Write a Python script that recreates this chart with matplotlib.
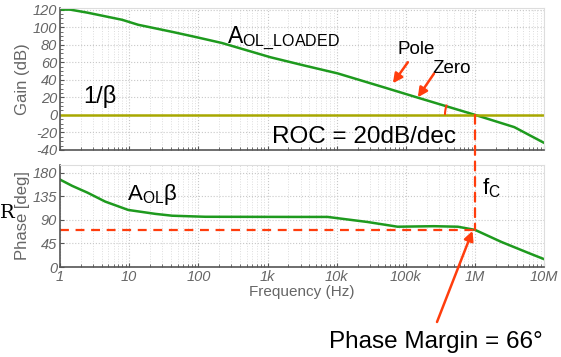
# Bode plot of loop gain: open loop gain vs 1/beta, and loop phase

import matplotlib.pyplot as plt
import numpy as np
from matplotlib.patches import ConnectionPatch, Arc
from matplotlib.ticker import FixedLocator, LogLocator, NullFormatter
from matplotlib.transforms import IdentityTransform

plt.rcParams['font.family'] = ['Liberation Sans', 'DejaVu Sans']

# Gain (dB)
f_gain = [1, 1.4, 2.5, 7.9, 13.5, 42, 91, 220, 1100, 3300, 10300, 50000,
          149000, 1e6, 3.7e6, 1e7]
gain_db = [120, 120, 116.5, 108.4, 102.7, 94.6, 88.8, 81.9, 65.7, 56.5,
           47.3, 31, 19.6, 0, -14, -32]
inv_beta_db = 0

# Phase (deg)
f_phase = [1, 1.5, 2.5, 4.5, 9.7, 24, 42, 126, 2550, 7400, 28000, 76000,
           255000, 565000, 1e6, 2.4e6, 5.9e6, 1e7]
phase_deg = [167, 155, 142, 125, 109, 101.5, 98, 96, 95.7, 95.7, 86, 77,
             78, 77, 71, 48, 27, 15]

f_c = 1e6
pm_level = 71

x_ticks = [1, 10, 100, 1e3, 1e4, 1e5, 1e6, 1e7]
x_labels = ['1', '10', '100', '1k', '10k', '100k', '1M', '10M']
gain_ticks = [120, 100, 80, 60, 40, 20, 0, -20, -40]
phase_ticks = [0, 45, 90, 135, 180]

green = '#1e9a1e'
olive = '#a8a800'
red = '#ff3d0d'
grey = '#666666'

fig = plt.figure(figsize=(5.61, 3.57), dpi=100)
ax1 = fig.add_axes([0.107, 0.580, 0.863, 0.398])
ax2 = fig.add_axes([0.107, 0.252, 0.863, 0.286])


def style(ax):
    ax.set_xscale('log')
    ax.set_xlim(1, 1e7)
    ax.xaxis.set_major_locator(FixedLocator(x_ticks))
    ax.xaxis.set_minor_locator(LogLocator(base=10, subs=np.arange(2, 10)))
    ax.xaxis.set_minor_formatter(NullFormatter())
    ax.grid(which='major', color='#c8c8c8', linestyle=':', linewidth=0.8)
    ax.xaxis.grid(which='minor', color='#dddddd', linestyle=':', linewidth=0.7)
    for s in ['top', 'right']:
        ax.spines[s].set_color('#dddddd')
    for s in ['left', 'bottom']:
        ax.spines[s].set_color('#555555')
        ax.spines[s].set_linewidth(1.2)
    ax.tick_params(which='both', direction='in', colors='#555555',
                   labelcolor=grey, labelsize=10.5, pad=2)
    ax.tick_params(which='minor', length=2)
    ax.tick_params(which='major', length=3)


############
#   Gain   #
############
ax1.plot(f_gain, gain_db, color=green, linewidth=1.8)
ax1.axhline(inv_beta_db, color=olive, linewidth=1.8)
style(ax1)
ax1.set_ylim(-40, 122)
ax1.set_yticks(gain_ticks, [str(t) for t in gain_ticks], fontstyle='italic')
ax1.yaxis.set_minor_locator(FixedLocator(np.arange(-40, 121, 5)))
ax1.tick_params(labelbottom=False)
ax1.set_ylabel('Gain (dB)', color=grey, fontsize=12, labelpad=2)

ax1.text(2.2, 8, '1/β', fontsize=17, ha='left', va='bottom')
ax1.text(263, 88, r'$\mathregular{A_{OL\_LOADED}}$', fontsize=16.5,
         ha='left', va='center')
ax1.text(1180, -25, 'ROC = 20dB/dec', fontsize=17.5, ha='left', va='center')
ax1.text(7.6e4, 74, 'Pole', fontsize=13.5, ha='left', va='center')
ax1.text(2.45e5, 53, 'Zero', fontsize=13.5, ha='left', va='center')
ax1.annotate('', xy=(6.5e4, 36), xytext=(1.07e5, 60),
             arrowprops=dict(arrowstyle='-|>', color=red, lw=1.8,
                             mutation_scale=14, shrinkA=0, shrinkB=0))
ax1.annotate('', xy=(1.49e5, 20), xytext=(2.55e5, 47),
             arrowprops=dict(arrowstyle='-|>', color=red, lw=1.8,
                             mutation_scale=14, shrinkA=0, shrinkB=0))
# small angle arc at the crossing point, sized in pixels
px = ax1.transData.transform((f_c, 0))
arc = Arc(px, 60, 60, theta1=160, theta2=180, color=red, lw=1.5,
          transform=IdentityTransform())
fig.patches.append(arc)

############
#   Phase  #
############
ax2.plot(f_phase, phase_deg, color=green, linewidth=1.8)
ax2.plot([1, f_c], [pm_level, pm_level], color=red, linestyle=(0, (4, 3)),
         linewidth=1.6)
style(ax2)
ax2.set_ylim(0, 195)
ax2.set_yticks(phase_ticks, [str(t) for t in phase_ticks], fontstyle='italic')
ax2.set_xticks(x_ticks, x_labels, fontstyle='italic')
ax2.set_ylabel('Phase [deg]', color=grey, fontsize=12, labelpad=2)
ax2.set_xlabel('Frequency (Hz)', color=grey, fontsize=11, labelpad=1)

ax2.text(9.4, 138, r'$\mathregular{A_{OL}β}$', fontsize=16,
         ha='left', va='center')
ax2.text(1.25e6, 150, r'$\mathregular{f_C}$', fontsize=16,
         ha='left', va='center')
fig.text(0.0, 1 - 213 / 357, 'R', fontsize=14, family='serif',
         ha='left', va='center')

con = ConnectionPatch(xyA=(f_c, 0), coordsA=ax1.transData,
                      xyB=(f_c, pm_level), coordsB=ax2.transData,
                      color=red, linestyle=(0, (4, 3)), linewidth=1.6)
fig.add_artist(con)

ax2.annotate('', xy=(f_c * 0.92, pm_level - 2), xycoords='data',
             xytext=(437 / 561, 1 - 322 / 357), textcoords='figure fraction',
             arrowprops=dict(arrowstyle='-|>', color=red, lw=1.8,
                             mutation_scale=14, shrinkA=0, shrinkB=0))
fig.text(436 / 561, 1 - 342 / 357, 'Phase Margin = 66°', fontsize=17.5,
         ha='center', va='center')

plt.savefig('out.png', dpi=100)
